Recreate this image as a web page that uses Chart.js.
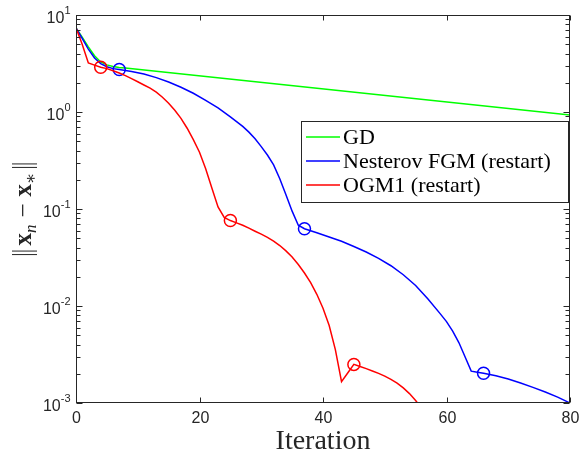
<!DOCTYPE html>
<html>
<head>
<meta charset="utf-8">
<script src="https://cdn.jsdelivr.net/npm/chart.js@4.4.1/dist/chart.umd.min.js"></script>
<style>
  html, body { margin: 0; padding: 0; background: #fff; }
  #wrap { width: 579px; height: 452px; }
</style>
</head>
<body>
<div id="wrap"><canvas id="grafico" width="579" height="452"></canvas></div>
<script>
// datos
const xTicks = [0, 20, 40, 60, 80];
const yExps = [-3, -2, -1, 0, 1];

const gdIter = [0, 1, 2, 3, 4, 5, 6, 7, 8, 80];
const gdVals = [7.38, 5.9, 4.7, 3.8, 3.28, 3.06, 2.95, 2.88, 2.834, 0.93];

const fgmIter = [0, 1, 2, 3, 4, 5, 6, 7, 9, 11, 13, 15, 17, 19, 21, 23, 25, 27, 28, 29, 30, 31, 32, 33, 34, 35, 36, 37,
  39, 41, 43, 45, 47, 49, 51, 53, 55, 57, 59, 60, 61, 62, 63, 64, 65, 66, 68, 70, 72, 74, 76, 78, 80];
const fgmVals = [7.38, 5.75, 4.45, 3.6, 3.15, 2.93, 2.8, 2.74, 2.62, 2.46, 2.26, 2.04, 1.8, 1.56, 1.32, 1.1, 0.89, 0.71, 0.62, 0.53, 0.44, 0.36, 0.285, 0.205, 0.14, 0.095, 0.068, 0.0626,
  0.057, 0.0515, 0.0465, 0.041, 0.036, 0.031, 0.026, 0.021, 0.0163, 0.0118, 0.0083, 0.0069, 0.0055, 0.0042, 0.003, 0.00213, 0.00208, 0.00203, 0.00191, 0.00177, 0.00161, 0.00145, 0.0013, 0.00115, 0.001];
const fgmRestarts = [7, 37, 66];

const ogmIter = [0, 1, 2, 3, 4, 5, 6, 7, 8, 9, 10, 11, 12, 13, 14, 15, 16, 17, 18, 19, 20, 21, 22, 23, 24, 25, 26, 27, 28, 29, 30,
  31, 32, 33, 34, 35, 36, 37, 38, 39, 40, 41, 42, 43, 44, 45, 46, 47, 48, 49, 50, 51, 52, 53, 54, 55, 56, 57];
const ogmVals = [7.38, 5.0, 3.2, 3.04, 2.89, 2.8, 2.66, 2.52, 2.37, 2.21, 2.05, 1.9, 1.76, 1.6, 1.42, 1.23, 1.04, 0.86, 0.68, 0.52, 0.385, 0.26, 0.165, 0.105, 0.082, 0.076, 0.072, 0.068, 0.0635, 0.059, 0.055,
  0.051, 0.0467, 0.042, 0.037, 0.032, 0.0268, 0.0219, 0.0174, 0.0132, 0.0095, 0.0063, 0.00355, 0.00166, 0.00204, 0.0025, 0.00238, 0.00226, 0.00214, 0.00202, 0.00189, 0.00175, 0.0016, 0.00143, 0.00125, 0.00106, 0.00088, 0.0007];
const ogmRestarts = [4, 25, 45];

const nombres = ['GD', 'Nesterov FGM (restart)', 'OGM1 (restart)'];
const colores = ['#00ff00', '#0000ff', '#ff0000'];

const ejeColor = '#262626';
const sansFont = "'Liberation Sans', Arial, sans-serif";
const serifFont = "'Liberation Serif', 'DejaVu Serif', serif";

function puntos(iters, vals) {
  return iters.map((it, i) => ({ x: it, y: vals[i] }));
}

function serie(label, iters, vals, color, restarts, order) {
  return {
    label,
    data: puntos(iters, vals),
    borderColor: color,
    borderWidth: 1.5,
    backgroundColor: 'transparent',
    pointRadius: ctx => (restarts.includes(ctx.raw.x) ? 6 : 0),
    pointBorderColor: color,
    pointBorderWidth: 1.5,
    pointBackgroundColor: 'transparent',
    pointHoverRadius: 0,
    tension: 0,
    fill: false,
    order
  };
}

function linea(ctx, x1, y1, x2, y2) {
  ctx.beginPath();
  ctx.moveTo(x1, y1);
  ctx.lineTo(x2, y2);
  ctx.stroke();
}

// ejes al estilo matlab: caja, ticks hacia dentro, etiquetas con exponente
const ejes = {
  id: 'ejes',
  afterDatasetsDraw(chart) {
    const { ctx, chartArea: a } = chart;
    const sx = chart.scales.x;
    const sy = chart.scales.y;
    ctx.save();
    ctx.strokeStyle = ejeColor;
    ctx.fillStyle = ejeColor;
    ctx.lineWidth = 1;
    const L = Math.round(a.left) + 0.5, R = Math.round(a.right) - 0.5;
    const T = Math.round(a.top) + 0.5, B = Math.round(a.bottom) - 0.5;
    ctx.strokeRect(L, T, R - L, B - T);

    ctx.font = '16px ' + sansFont;
    ctx.textAlign = 'center';
    ctx.textBaseline = 'middle';
    xTicks.forEach(v => {
      const px = Math.round(sx.getPixelForValue(v)) + 0.5;
      linea(ctx, px, B, px, B - 5);
      linea(ctx, px, T, px, T + 5);
      ctx.fillText(String(v), Math.min(px, 571), B + 16);
    });

    yExps.forEach(e => {
      const py = Math.round(sy.getPixelForValue(Math.pow(10, e))) + 0.5;
      linea(ctx, L, py, L + 6, py);
      linea(ctx, R, py, R - 6, py);
      const expo = e < 0 ? '-' + Math.abs(e) : String(e);
      ctx.textAlign = 'right';
      ctx.font = '11px ' + sansFont;
      const w = ctx.measureText(expo).width;
      ctx.fillText(expo, L - 6, py - 5);
      ctx.font = '16px ' + sansFont;
      ctx.fillText('10', L - 6 - w, py + 3);
      if (e < 1) {
        for (let m = 2; m <= 9; m++) {
          const pm = Math.round(sy.getPixelForValue(m * Math.pow(10, e))) + 0.5;
          linea(ctx, L, pm, L + 4, pm);
          linea(ctx, R, pm, R - 4, pm);
        }
      }
    });
    ctx.restore();
  },
  afterDraw(chart) {
    const { ctx, chartArea: a } = chart;
    ctx.save();
    ctx.fillStyle = ejeColor;
    ctx.strokeStyle = ejeColor;

    // titulo eje x
    ctx.font = '28px ' + serifFont;
    ctx.textAlign = 'center';
    ctx.textBaseline = 'alphabetic';
    ctx.fillText('Iteration', (a.left + a.right) / 2, 449);

    // titulo eje y: ||x_n - x_*||
    ctx.translate(31, 209);
    ctx.rotate(-Math.PI / 2);
    const partes = [
      { t: 'bars' },
      { t: 'gap', w: 4 },
      { t: 'x', f: 'bold 25px ' + serifFont, dy: 0 },
      { t: 'n', f: 'italic 17px ' + serifFont, dy: 5 },
      { t: 'gap', w: 7 },
      { t: '\u2212', f: '25px ' + serifFont, dy: 0 },
      { t: 'gap', w: 7 },
      { t: 'x', f: 'bold 25px ' + serifFont, dy: 0 },
      { t: '\u2217', f: '17px ' + serifFont, dy: 5 },
      { t: 'gap', w: 4 },
      { t: 'bars' }
    ];
    let total = 0;
    partes.forEach(p => {
      if (p.t === 'bars') p.w = 6;
      else if (p.t !== 'gap') { ctx.font = p.f; p.w = ctx.measureText(p.t).width; }
      total += p.w;
    });
    let cx = -total / 2;
    ctx.textAlign = 'left';
    ctx.lineWidth = 1;
    partes.forEach(p => {
      if (p.t === 'bars') {
        linea(ctx, cx + 1, -19, cx + 1, 6);
        linea(ctx, cx + 4.5, -19, cx + 4.5, 6);
      } else if (p.t !== 'gap') {
        ctx.font = p.f;
        ctx.fillText(p.t, cx, p.dy);
      }
      cx += p.w;
    });
    ctx.setTransform(1, 0, 0, 1, 0, 0);

    // leyenda
    const lx = 301.5, ly = 121.5, lw = 267, lh = 81;
    ctx.fillStyle = '#fff';
    ctx.fillRect(lx, ly, lw, lh);
    ctx.lineWidth = 1;
    ctx.strokeStyle = ejeColor;
    ctx.strokeRect(lx, ly, lw, lh);
    ctx.font = '22px ' + serifFont;
    ctx.textAlign = 'left';
    ctx.textBaseline = 'middle';
    chart.data.datasets.forEach((ds, i) => {
      const yy = 137 + i * 24;
      ctx.strokeStyle = ds.borderColor;
      ctx.lineWidth = 1.5;
      linea(ctx, 306, yy, 340, yy);
      ctx.fillStyle = '#000';
      ctx.fillText(ds.label, 343, yy + 1);
    });
    ctx.restore();
  }
};

const datasets = [
  serie(nombres[0], gdIter, gdVals, colores[0], [], 2),
  serie(nombres[1], fgmIter, fgmVals, colores[1], fgmRestarts, 1),
  serie(nombres[2], ogmIter, ogmVals, colores[2], ogmRestarts, 0)
];

new Chart(document.getElementById('grafico').getContext('2d'), {
  type: 'line',
  data: { datasets },
  options: {
    responsive: false,
    animation: false,
    devicePixelRatio: 1,
    layout: { padding: { left: 76, right: 9, top: 15, bottom: 49 } },
    plugins: { legend: { display: false }, tooltip: { enabled: false } },
    events: [],
    scales: {
      x: { type: 'linear', min: 0, max: 80, display: false },
      y: { type: 'logarithmic', min: 0.001, max: 10, display: false }
    }
  },
  plugins: [ejes]
});
</script>
</body>
</html>
